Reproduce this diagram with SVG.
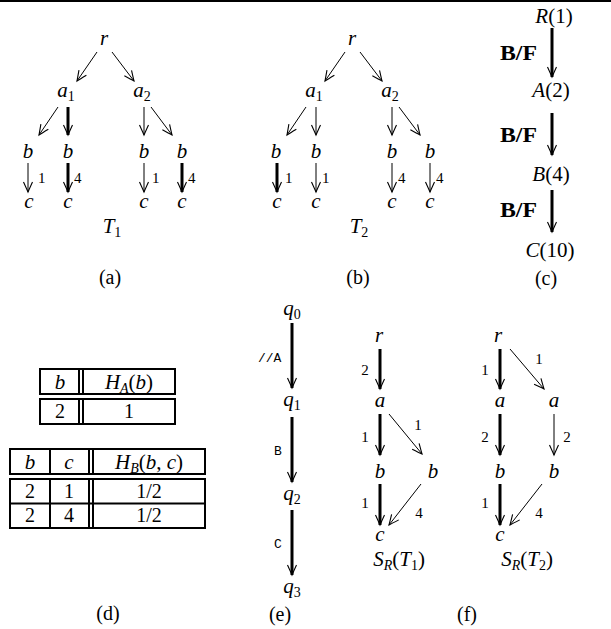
<svg xmlns="http://www.w3.org/2000/svg" width="611" height="629" viewBox="0 0 611 629" font-family="'Liberation Serif', 'DejaVu Serif', serif">
<style>
.m,.up,.sub,.subi,.n,.cap,.bf{font-family:'Liberation Serif','DejaVu Serif',serif;fill:#000}
.m{font-style:italic;font-size:21px}
.up{font-style:normal}
.sub{font-size:14px;font-style:normal}
.subi{font-size:14px;font-style:italic}
.n{font-size:15px}
.cap{font-size:20px}
.bf{font-weight:bold;font-size:20px}
.tt{font-family:'Liberation Mono','DejaVu Sans Mono',monospace;font-size:13px;fill:#000}
.t{stroke:#000;stroke-width:1;fill:none;marker-end:url(#h)}
.k{stroke:#000;stroke-width:3;fill:none;marker-end:url(#h)}
.tb{stroke:#000;stroke-width:2;fill:none}
</style>
<defs>
<marker id="h" viewBox="-11 -6 13 12" refX="0" refY="0" markerWidth="13" markerHeight="12" markerUnits="userSpaceOnUse" orient="auto">
<path d="M-10,-4.5 Q-3,-1.3 0,0 Q-3,1.3 -10,4.5" fill="none" stroke="#000" stroke-width="1.1"/>
</marker>
</defs>
<rect x="0" y="0" width="611" height="2" fill="#000"/>

<!-- (a) -->
<g id="a-r"><text class="m" x="104" y="45" text-anchor="middle">r</text></g>
<g id="a-a1"><text class="m" x="66" y="97" text-anchor="middle">a<tspan class="sub" dy="4">1</tspan></text></g>
<g id="a-a2"><text class="m" x="142" y="97" text-anchor="middle">a<tspan class="sub" dy="4">2</tspan></text></g>
<g id="a-b1"><text class="m" x="28" y="158" text-anchor="middle">b</text></g>
<g id="a-b2"><text class="m" x="68" y="158" text-anchor="middle">b</text></g>
<g id="a-b3"><text class="m" x="144" y="158" text-anchor="middle">b</text></g>
<g id="a-b4"><text class="m" x="182" y="158" text-anchor="middle">b</text></g>
<g id="a-c1"><text class="m" x="29" y="208" text-anchor="middle">c</text></g>
<g id="a-c2"><text class="m" x="68" y="208" text-anchor="middle">c</text></g>
<g id="a-c3"><text class="m" x="144" y="208" text-anchor="middle">c</text></g>
<g id="a-c4"><text class="m" x="182" y="208" text-anchor="middle">c</text></g>
<g id="a-title"><text class="m" x="112" y="233" text-anchor="middle">T<tspan class="sub" dy="4">1</tspan></text></g>
<g id="a-cap"><text class="cap" x="110" y="284" text-anchor="middle">(a)</text></g>

<!-- (b) -->
<g id="b-r"><text class="m" x="352" y="45" text-anchor="middle">r</text></g>
<g id="b-a1"><text class="m" x="314" y="97" text-anchor="middle">a<tspan class="sub" dy="4">1</tspan></text></g>
<g id="b-a2"><text class="m" x="390" y="97" text-anchor="middle">a<tspan class="sub" dy="4">2</tspan></text></g>
<g id="b-b1"><text class="m" x="276" y="158" text-anchor="middle">b</text></g>
<g id="b-b2"><text class="m" x="316" y="158" text-anchor="middle">b</text></g>
<g id="b-b3"><text class="m" x="392" y="158" text-anchor="middle">b</text></g>
<g id="b-b4"><text class="m" x="430" y="158" text-anchor="middle">b</text></g>
<g id="b-c1"><text class="m" x="277" y="208" text-anchor="middle">c</text></g>
<g id="b-c2"><text class="m" x="316" y="208" text-anchor="middle">c</text></g>
<g id="b-c3"><text class="m" x="392" y="208" text-anchor="middle">c</text></g>
<g id="b-c4"><text class="m" x="430" y="208" text-anchor="middle">c</text></g>
<g id="b-title"><text class="m" x="359" y="233" text-anchor="middle">T<tspan class="sub" dy="4">2</tspan></text></g>
<g id="b-cap"><text class="cap" x="358" y="284" text-anchor="middle">(b)</text></g>

<!-- (c) -->
<g id="c-R"><text class="m" x="554" y="23" text-anchor="middle">R<tspan class="up">(1)</tspan></text></g>
<g id="c-A"><text class="m" x="551" y="97" text-anchor="middle">A<tspan class="up">(2)</tspan></text></g>
<g id="c-B"><text class="m" x="551" y="181" text-anchor="middle">B<tspan class="up">(4)</tspan></text></g>
<g id="c-C"><text class="m" x="550" y="257" text-anchor="middle">C<tspan class="up">(10)</tspan></text></g>
<g id="c-cap"><text class="cap" x="546" y="285" text-anchor="middle">(c)</text></g>

<!-- (d) tables -->
<g id="d-table-HA">
<rect class="tb" x="40" y="369" width="135" height="25"/>
<rect class="tb" x="40" y="399" width="135" height="25"/>
<line class="tb" x1="79" y1="369" x2="79" y2="394"/><line class="tb" x1="83" y1="369" x2="83" y2="394"/>
<line class="tb" x1="79" y1="399" x2="79" y2="424"/><line class="tb" x1="83" y1="399" x2="83" y2="424"/>
<text class="m" x="60" y="389" text-anchor="middle">b</text>
<text class="m" x="129" y="389" text-anchor="middle">H<tspan class="subi" dy="4">A</tspan><tspan class="up" dy="-4">(</tspan>b<tspan class="up">)</tspan></text>
<text class="cap" x="60" y="418" text-anchor="middle">2</text>
<text class="cap" x="129" y="418" text-anchor="middle">1</text>
</g>
<g id="d-table-HB">
<rect class="tb" x="10" y="449" width="195" height="25"/>
<rect class="tb" x="10" y="479" width="195" height="49"/>
<line class="tb" x1="10" y1="503.5" x2="205" y2="503.5"/>
<line class="tb" x1="50" y1="449" x2="50" y2="474"/><line class="tb" x1="50" y1="479" x2="50" y2="528"/>
<line class="tb" x1="89" y1="449" x2="89" y2="474"/><line class="tb" x1="93" y1="449" x2="93" y2="474"/>
<line class="tb" x1="89" y1="479" x2="89" y2="528"/><line class="tb" x1="93" y1="479" x2="93" y2="528"/>
<text class="m" x="30" y="469" text-anchor="middle">b</text>
<text class="m" x="69" y="469" text-anchor="middle">c</text>
<text class="m" x="149" y="469" text-anchor="middle">H<tspan class="subi" dy="4">B</tspan><tspan class="up" dy="-4">(</tspan>b<tspan class="up">, </tspan>c<tspan class="up">)</tspan></text>
<text class="cap" x="30" y="498" text-anchor="middle">2</text>
<text class="cap" x="69" y="498" text-anchor="middle">1</text>
<text class="cap" x="149" y="498" text-anchor="middle">1/2</text>
<text class="cap" x="30" y="522" text-anchor="middle">2</text>
<text class="cap" x="69" y="522" text-anchor="middle">4</text>
<text class="cap" x="149" y="522" text-anchor="middle">1/2</text>
</g>
<g id="d-cap"><text class="cap" x="108" y="620" text-anchor="middle">(d)</text></g>

<!-- (e) -->
<g id="e-q0"><text class="m" x="292" y="315" text-anchor="middle">q<tspan class="sub" dy="4">0</tspan></text></g>
<g id="e-q1"><text class="m" x="292" y="406" text-anchor="middle">q<tspan class="sub" dy="4">1</tspan></text></g>
<g id="e-q2"><text class="m" x="292" y="500" text-anchor="middle">q<tspan class="sub" dy="4">2</tspan></text></g>
<g id="e-q3"><text class="m" x="292" y="593" text-anchor="middle">q<tspan class="sub" dy="4">3</tspan></text></g>
<g id="e-cap"><text class="cap" x="280" y="621" text-anchor="middle">(e)</text></g>

<!-- (f) -->
<g id="f1-r"><text class="m" x="379" y="342" text-anchor="middle">r</text></g>
<g id="f1-a"><text class="m" x="380" y="407" text-anchor="middle">a</text></g>
<g id="f1-b1"><text class="m" x="380" y="478" text-anchor="middle">b</text></g>
<g id="f1-b2"><text class="m" x="433" y="478" text-anchor="middle">b</text></g>
<g id="f1-c"><text class="m" x="380" y="541" text-anchor="middle">c</text></g>
<g id="f1-title"><text class="m" x="399" y="566" text-anchor="middle">S<tspan class="subi" dy="4">R</tspan><tspan class="up" dy="-4">(</tspan>T<tspan class="sub" dy="4">1</tspan><tspan class="up" dy="-4">)</tspan></text></g>
<g id="f2-r"><text class="m" x="498" y="342" text-anchor="middle">r</text></g>
<g id="f2-a1"><text class="m" x="500" y="407" text-anchor="middle">a</text></g>
<g id="f2-a2"><text class="m" x="554" y="407" text-anchor="middle">a</text></g>
<g id="f2-b1"><text class="m" x="500" y="478" text-anchor="middle">b</text></g>
<g id="f2-b2"><text class="m" x="554" y="478" text-anchor="middle">b</text></g>
<g id="f2-c"><text class="m" x="500" y="541" text-anchor="middle">c</text></g>
<g id="f2-title"><text class="m" x="527" y="566" text-anchor="middle">S<tspan class="subi" dy="4">R</tspan><tspan class="up" dy="-4">(</tspan>T<tspan class="sub" dy="4">2</tspan><tspan class="up" dy="-4">)</tspan></text></g>
<g id="f-cap"><text class="cap" x="467" y="621" text-anchor="middle">(f)</text></g>

<g id="connectors">
<!-- (a) -->
<line class="t" x1="97" y1="52" x2="77" y2="81"/>
<line class="t" x1="112" y1="52" x2="134" y2="81"/>
<line class="t" x1="58" y1="107" x2="39" y2="135"/>
<line class="k" x1="68" y1="107" x2="68" y2="135"/>
<line class="t" x1="144" y1="107" x2="144" y2="135"/>
<line class="t" x1="151" y1="107" x2="172" y2="135"/>
<line class="t" x1="28" y1="163" x2="28" y2="192"/>
<line class="k" x1="68" y1="163" x2="68" y2="192"/>
<line class="t" x1="144" y1="163" x2="144" y2="192"/>
<line class="k" x1="182" y1="163" x2="182" y2="192"/>
<text class="n" x="38" y="183">1</text>
<text class="n" x="74" y="183">4</text>
<text class="n" x="152" y="183">1</text>
<text class="n" x="188" y="183">4</text>
<!-- (b) -->
<line class="t" x1="345" y1="52" x2="325" y2="81"/>
<line class="t" x1="360" y1="52" x2="382" y2="81"/>
<line class="t" x1="306" y1="107" x2="287" y2="135"/>
<line class="t" x1="316" y1="107" x2="316" y2="135"/>
<line class="t" x1="392" y1="107" x2="392" y2="135"/>
<line class="t" x1="399" y1="107" x2="420" y2="135"/>
<line class="k" x1="277" y1="163" x2="277" y2="192"/>
<line class="t" x1="316" y1="163" x2="316" y2="192"/>
<line class="t" x1="392" y1="163" x2="392" y2="192"/>
<line class="t" x1="430" y1="163" x2="430" y2="192"/>
<text class="n" x="285" y="183">1</text>
<text class="n" x="322" y="183">1</text>
<text class="n" x="398" y="183">4</text>
<text class="n" x="436" y="183">4</text>
<!-- (c) -->
<line class="k" x1="552" y1="28" x2="552" y2="77"/>
<line class="k" x1="552" y1="113" x2="552" y2="155"/>
<line class="k" x1="552" y1="190" x2="552" y2="232"/>
<text class="bf" x="500" y="60" textLength="37" lengthAdjust="spacingAndGlyphs">B/F</text>
<text class="bf" x="500" y="142" textLength="37" lengthAdjust="spacingAndGlyphs">B/F</text>
<text class="bf" x="500" y="217" textLength="37" lengthAdjust="spacingAndGlyphs">B/F</text>
<!-- (e) -->
<line class="k" x1="292" y1="323" x2="292" y2="388"/>
<line class="k" x1="292" y1="417" x2="292" y2="482"/>
<line class="k" x1="292" y1="510" x2="292" y2="575"/>
<text class="tt" x="258" y="362">//A</text>
<text class="tt" x="274" y="455">B</text>
<text class="tt" x="274" y="548">C</text>
<!-- (f) left -->
<line class="k" x1="380" y1="349" x2="380" y2="389"/>
<line class="k" x1="380" y1="414" x2="380" y2="455"/>
<line class="t" x1="389" y1="414" x2="422" y2="454"/>
<line class="k" x1="380" y1="484" x2="380" y2="525"/>
<line class="t" x1="421" y1="484" x2="389" y2="525"/>
<text class="n" x="365" y="375" text-anchor="middle">2</text>
<text class="n" x="365" y="442" text-anchor="middle">1</text>
<text class="n" x="418" y="430" text-anchor="middle">1</text>
<text class="n" x="365" y="508" text-anchor="middle">1</text>
<text class="n" x="419" y="518" text-anchor="middle">4</text>
<!-- (f) right -->
<line class="k" x1="500" y1="349" x2="500" y2="389"/>
<line class="t" x1="510" y1="349" x2="544" y2="389"/>
<line class="k" x1="500" y1="414" x2="500" y2="455"/>
<line class="t" x1="554" y1="414" x2="554" y2="455"/>
<line class="k" x1="500" y1="484" x2="500" y2="525"/>
<line class="t" x1="542" y1="484" x2="510" y2="525"/>
<text class="n" x="485" y="375" text-anchor="middle">1</text>
<text class="n" x="539" y="364" text-anchor="middle">1</text>
<text class="n" x="485" y="442" text-anchor="middle">2</text>
<text class="n" x="567" y="442" text-anchor="middle">2</text>
<text class="n" x="485" y="508" text-anchor="middle">1</text>
<text class="n" x="539" y="518" text-anchor="middle">4</text>
</g>
</svg>
